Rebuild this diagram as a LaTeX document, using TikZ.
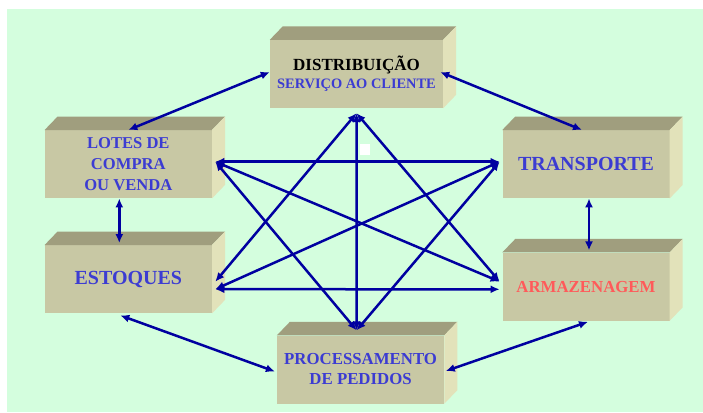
\documentclass[tikz,border=0pt]{standalone}
\usepackage{fontspec}
\setmainfont{Liberation Serif}
\usetikzlibrary{arrows.meta}
\definecolor{fundo}{RGB}{212,254,222}
\definecolor{frente}{RGB}{200,200,164}
\definecolor{topo}{RGB}{160,158,126}
\definecolor{lado}{RGB}{226,226,186}
\definecolor{azulseta}{RGB}{0,0,160}
\definecolor{azultexto}{RGB}{60,60,210}
\definecolor{vermelho}{RGB}{255,90,90}
\begin{document}
\begin{tikzpicture}[x=1pt,y=-1pt,
    caixa/.style={fill=frente,inner sep=0pt,minimum width=167pt,minimum height=68pt,
      align=center,text=azultexto},
    seta/.style={draw=azulseta,line width=2.5pt,
      {Latex[length=9pt,width=8pt]}-{Latex[length=9pt,width=8pt]}}]
  \useasboundingbox (0,0) rectangle (703,412);
  \fill[fundo] (7,9) rectangle (703,412);
  % caixas
  \node[caixa,minimum width=173pt,font=\bfseries\fontsize{17}{18.3}\selectfont] (dist) at (356.5,74)
    {{\color{black}DISTRIBUIÇÃO}\\{\fontsize{14.4}{18.3}\selectfont SERVIÇO AO CLIENTE}};
  \node[caixa,font=\bfseries\fontsize{16.6}{20.7}\selectfont] (lotes) at (128.3,164.2) {LOTES DE\\COMPRA\\OU VENDA};
  \node[caixa,font=\bfseries\fontsize{20}{24}\selectfont] (transp) at (586,164.2) {TRANSPORTE};
  \node[caixa,font=\bfseries\fontsize{20}{24}\selectfont] (estoq) at (128.3,279.2) {ESTOQUES};
  \node[caixa,text=vermelho,font=\bfseries\fontsize{16.8}{20}\selectfont] (armaz) at (586,286.6) {ARMAZENAGEM};
  \node[caixa,font=\bfseries\fontsize{16.8}{20}\selectfont] (proc) at (360.6,369.5) {PROCESSAMENTO\\DE PEDIDOS};
  \foreach \n in {dist,lotes,transp,estoq,armaz,proc}{
    \fill[topo] (\n.north west) -- ++(13,-13.5) -- ([xshift=13pt,yshift=13.5pt]\n.north east) -- (\n.north east) -- cycle;
    \fill[lado] (\n.north east) -- ++(13,-13.5) -- ([xshift=13pt,yshift=13.5pt]\n.south east) -- (\n.south east) -- cycle;
  }
  \fill[white] (359.5,144) rectangle (370,154.5);
  % pontos da estrela
  \coordinate (t) at ([yshift=-5pt]dist.south);
  \coordinate (b) at ([xshift=-4pt,yshift=5pt]proc.north);
  \coordinate (l1) at ([xshift=3.3pt,yshift=2.5pt]lotes.east);
  \coordinate (r1) at ([xshift=-2.7pt,yshift=2.5pt]transp.west);
  \coordinate (ea) at ([xshift=3.3pt,yshift=-2.5pt]estoq.east);
  \coordinate (eb) at ([xshift=3.3pt,yshift=-10pt]estoq.east);
  \coordinate (aa) at ([xshift=-2.7pt,yshift=5pt]armaz.west);
  \coordinate (ab) at ([xshift=-2.7pt,yshift=-2.7pt]armaz.west);
  % setas externas
  \draw[seta] ([yshift=2pt]dist.west) -- (lotes.north);
  \draw[seta] ([xshift=-3pt,yshift=2pt]dist.east) -- ([xshift=-4pt]transp.north);
  \draw[seta] ([xshift=-9pt]lotes.south) -- ([xshift=-9pt,yshift=2pt]estoq.north);
  \draw[seta] ([xshift=3pt]transp.south) -- ([xshift=3pt,yshift=2pt]armaz.north);
  \draw[seta] ([xshift=-8pt,yshift=-2pt]estoq.south) -- ([xshift=-2pt,yshift=-2pt]proc.west);
  \draw[seta] ([xshift=2pt,yshift=-1pt]armaz.south) -- ([xshift=1.5pt,yshift=-1.5pt]proc.east);
  % estrela
  \draw[seta] (l1) -- (r1);
  \draw[seta] (eb) -- (ab);
  \draw[seta] (t) -- (b);
  \draw[seta] (t) -- (ea);
  \draw[seta] (t) -- (aa);
  \draw[seta] (l1) -- (b);
  \draw[seta] (r1) -- (b);
  \draw[seta] (l1) -- (aa);
  \draw[seta] (r1) -- (eb);
\end{tikzpicture}
\end{document}
